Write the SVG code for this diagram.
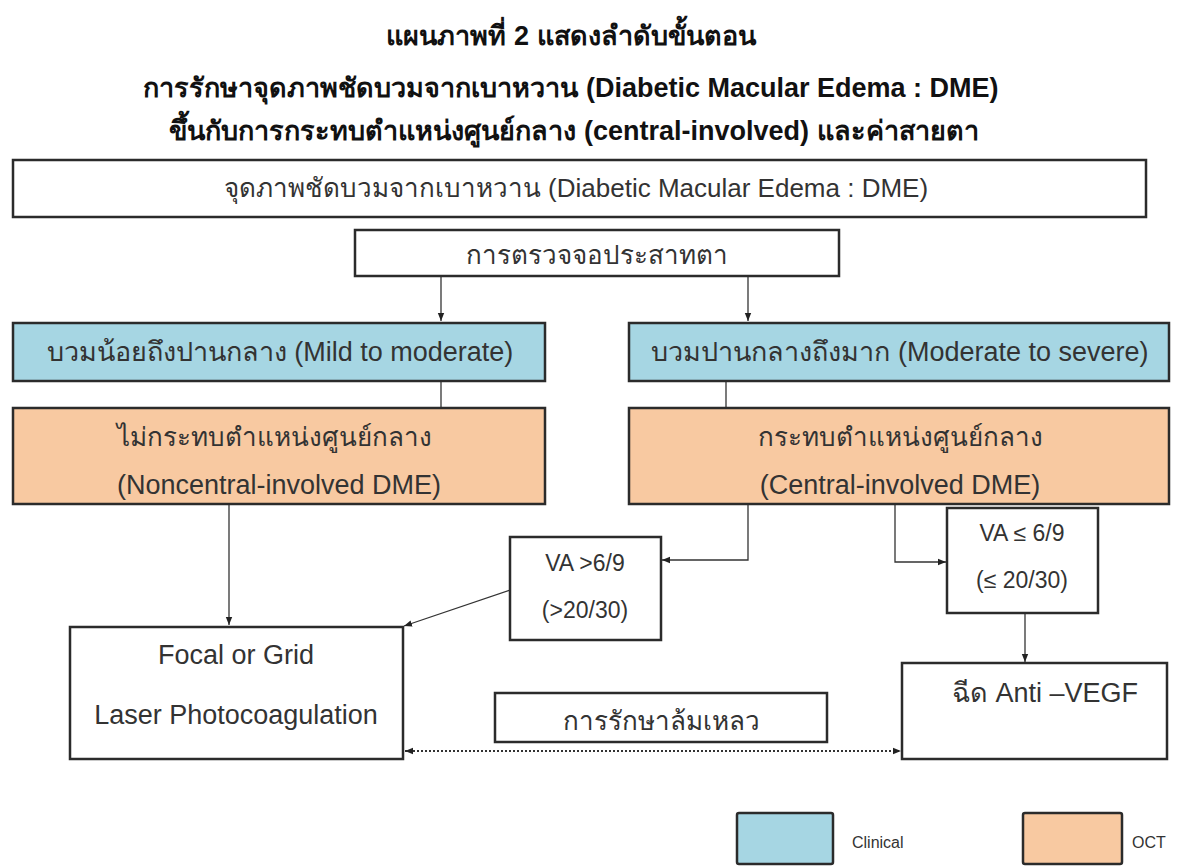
<svg xmlns="http://www.w3.org/2000/svg" width="1177" height="867" viewBox="0 0 1177 867">
<defs>
<style>
.t{font-family:"Liberation Sans","DejaVu Sans",sans-serif;fill:#333;text-anchor:middle;dominant-baseline:central}
.title{font-size:27px;font-weight:bold;fill:#111}
.n{font-size:26px}
.e{font-size:27px}
.s{font-size:23px}
.lg{font-size:16px;text-anchor:start}
.box{fill:#fff;stroke:#2b2b2b;stroke-width:2.5}
.blue{fill:#a6d6e3;stroke:#2b2b2b;stroke-width:2.5}
.orange{fill:#f8c9a1;stroke:#2b2b2b;stroke-width:2.5}
.c{fill:none;stroke:#333;stroke-width:1.3}
.d{fill:none;stroke:#333;stroke-width:2;stroke-dasharray:2 2}
</style>
<marker id="ah" viewBox="0 0 10 10" refX="10" refY="5" markerWidth="8" markerHeight="8" orient="auto-start-reverse" markerUnits="userSpaceOnUse">
<path d="M0,1 L10,5 L0,9 Z" fill="#222"/>
</marker>
</defs>
<rect width="1177" height="867" fill="#fff"/>
<g id="title">
<text class="t title" x="571" y="36">แผนภาพที่ 2 แสดงลำดับขั้นตอน</text>
<text class="t title" x="571" y="88">การรักษาจุดภาพชัดบวมจากเบาหวาน  (Diabetic Macular Edema : DME)</text>
<text class="t title" x="574" y="131">ขึ้นกับการกระทบตำแหน่งศูนย์กลาง (central-involved) และค่าสายตา</text>
</g>
<g id="connectors">
<line class="c" x1="441" y1="277" x2="441" y2="321" marker-end="url(#ah)"/>
<line class="c" x1="748" y1="277" x2="748" y2="321" marker-end="url(#ah)"/>
<line class="c" x1="441" y1="382" x2="441" y2="408"/>
<line class="c" x1="726" y1="382" x2="726" y2="408"/>
<line class="c" x1="229" y1="505" x2="229" y2="625" marker-end="url(#ah)"/>
<polyline class="c" points="748,505 748,560 662,560" marker-end="url(#ah)"/>
<line class="c" x1="510" y1="590" x2="404" y2="626" marker-end="url(#ah)"/>
<polyline class="c" points="895,505 895,562 946,562" marker-end="url(#ah)"/>
<line class="c" x1="1025" y1="614" x2="1025" y2="662" marker-end="url(#ah)"/>
<line class="d" x1="405" y1="751" x2="901" y2="751" marker-start="url(#ah)" marker-end="url(#ah)"/>
</g>
<g id="dme">
<rect class="box" x="13" y="160" width="1133" height="57"/>
<text class="t n" x="576" y="188">จุดภาพชัดบวมจากเบาหวาน (Diabetic Macular Edema : DME)</text>
</g>
<g id="exam">
<rect class="box" x="355" y="230" width="484" height="46"/>
<text class="t n" x="597" y="255">การตรวจจอประสาทตา</text>
</g>
<g id="mild">
<rect class="blue" x="13" y="323" width="532" height="58"/>
<text class="t e" x="280" y="352">บวมน้อยถึงปานกลาง (Mild to moderate)</text>
</g>
<g id="severe">
<rect class="blue" x="629" y="323" width="540" height="58"/>
<text class="t e" x="900" y="352">บวมปานกลางถึงมาก (Moderate to severe)</text>
</g>
<g id="noncentral">
<rect class="orange" x="13" y="408" width="532" height="96"/>
<text class="t n" x="274" y="437">ไม่กระทบตำแหน่งศูนย์กลาง</text>
<text class="t e" x="279" y="485">(Noncentral-involved DME)</text>
</g>
<g id="central">
<rect class="orange" x="629" y="408" width="540" height="96"/>
<text class="t n" x="900" y="437">กระทบตำแหน่งศูนย์กลาง</text>
<text class="t e" x="900" y="485">(Central-involved DME)</text>
</g>
<g id="va-high">
<rect class="box" x="510" y="537" width="151" height="103"/>
<text class="t s" x="585" y="563">VA &gt;6/9</text>
<text class="t s" x="585" y="610">(&gt;20/30)</text>
</g>
<g id="va-low">
<rect class="box" x="947" y="508" width="151" height="105"/>
<text class="t s" x="1022" y="533">VA ≤ 6/9</text>
<text class="t s" x="1022" y="580">(≤ 20/30)</text>
</g>
<g id="laser">
<rect class="box" x="70" y="627" width="333" height="132"/>
<text class="t e" x="236" y="655">Focal or Grid</text>
<text class="t e" x="236" y="715">Laser Photocoagulation</text>
</g>
<g id="failure">
<rect class="box" x="495" y="693" width="332" height="49"/>
<text class="t n" x="661" y="721">การรักษาล้มเหลว</text>
</g>
<g id="antivegf">
<rect class="box" x="902" y="663" width="265" height="96"/>
<text class="t e" x="1045" y="693">ฉีด Anti –VEGF</text>
</g>
<g id="legend">
<rect class="blue" x="737" y="813" width="96" height="51" rx="2"/>
<text class="t lg" x="852" y="842">Clinical</text>
<rect class="orange" x="1023" y="813" width="99" height="51" rx="2"/>
<text class="t lg" x="1132" y="842">OCT</text>
</g>
</svg>
